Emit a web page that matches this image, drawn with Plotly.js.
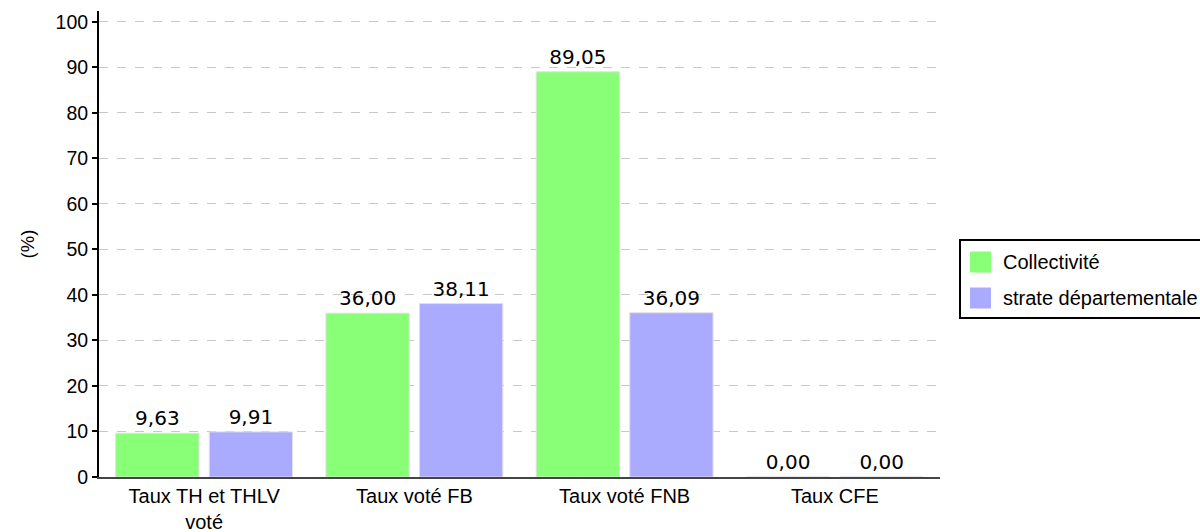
<!DOCTYPE html>
<html><head><meta charset="utf-8">
<script src="https://cdn.plot.ly/plotly-3.0.1.min.js"></script>
<style>html,body{margin:0;padding:0;background:#fff}#chart{width:1200px;height:532px}</style>
</head><body><div id="chart"></div>
<script>
const categories = ["Taux TH et THLV<br>voté", "Taux voté FB", "Taux voté FNB", "Taux CFE"];
const collectivite = [9.63, 36.00, 89.05, 0.00];
const strate = [9.91, 38.11, 36.09, 0.00];
const seriesNames = ["Collectivité", "strate départementale"];
const seriesColors = ["#88ff77", "#aaaaff"];

const labelFont = {family: "DejaVu Sans", size: 20, color: "#000"};
function mk(name, y, color) {
  return {
    type: "bar", name: name, x: categories, y: y,
    marker: {color: color, line: {color: "#e0e0e0", width: 1}},
    texttemplate: "%{y:.2f}", textposition: "outside", textfont: labelFont,
    cliponaxis: false, hoverinfo: "none", showlegend: false
  };
}
const data = [mk(seriesNames[0], collectivite, seriesColors[0]), mk(seriesNames[1], strate, seriesColors[1])];

// custom legend (paper coords: plot spans x 99..940, y 11..477)
const W = 841, H = 466;
const px = v => (v - 99) / W;
const py = v => (477 - v) / H;
const shapes = [
  {type: "rect", xref: "paper", yref: "paper", x0: px(960), x1: px(1215), y0: py(318), y1: py(240),
   fillcolor: "#fff", line: {color: "#000", width: 2}}
];
const annotations = [];
seriesNames.forEach((n, i) => {
  const cy = 262 + i * 36;
  shapes.push({type: "rect", xref: "paper", yref: "paper", x0: px(970), x1: px(991),
    y0: py(cy + 10.5), y1: py(cy - 10.5), fillcolor: seriesColors[i], line: {width: 0}});
  annotations.push({xref: "paper", yref: "paper", x: px(1001), y: py(cy), xanchor: "left",
    yanchor: "middle", showarrow: false, text: n,
    font: {family: "Liberation Sans", size: 20, color: "#000"}});
});

const layout = {
  width: 1200, height: 532,
  margin: {l: 99, r: 260, t: 11, b: 55, pad: 0, autoexpand: false},
  separators: ", ",
  paper_bgcolor: "#fff", plot_bgcolor: "#fff",
  bargap: 0.11, bargroupgap: 0.11,
  font: {family: "Liberation Sans", size: 20, color: "#000"},
  xaxis: {showgrid: false, showline: true, linecolor: "#444", linewidth: 2,
          ticks: "", tickfont: {family: "Liberation Sans", size: 20}, fixedrange: true},
  yaxis: {range: [0, 102.4], dtick: 10, showgrid: true, gridcolor: "#c8c8c8", griddash: "dash",
          gridwidth: 1, showline: true, linecolor: "#000", linewidth: 2, ticks: "outside",
          ticklen: 5, tickwidth: 2, tickcolor: "#000", zeroline: false,
          tickfont: {family: "Liberation Sans", size: 19.5},
          title: {text: "(%)", font: {family: "Liberation Sans", size: 18.5}, standoff: 16}},
  showlegend: false,
  shapes: shapes,
  annotations: annotations
};
Plotly.newPlot("chart", data, layout, {staticPlot: true});
</script></body></html>
